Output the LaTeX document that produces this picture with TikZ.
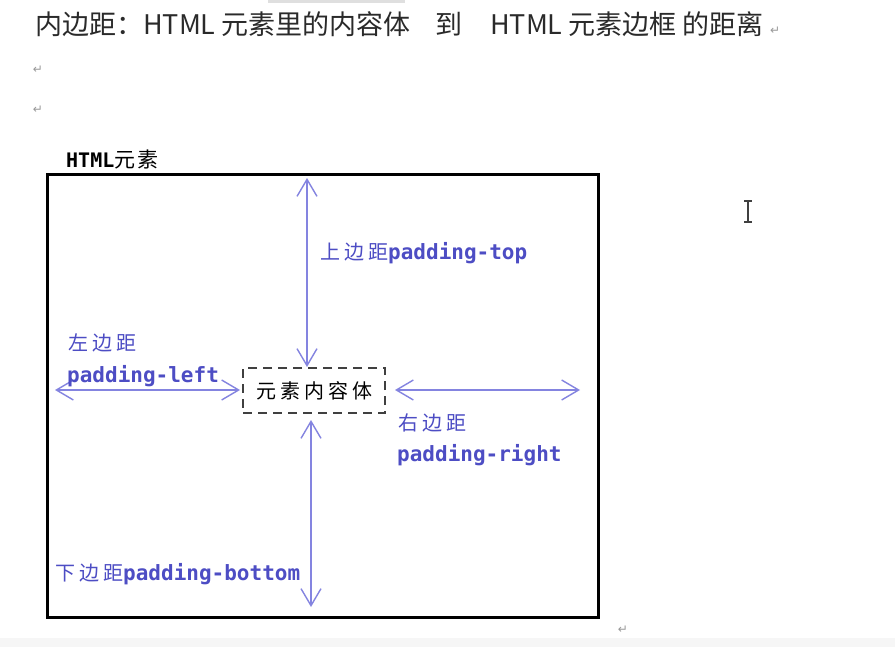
\documentclass[tikz,border=0pt]{standalone}
\usepackage{fontspec}
\usetikzlibrary{arrows.meta}
\newfontfamily\cjk{Noto Sans CJK SC}
\newfontfamily\monof{DejaVu Sans Mono}
\newfontfamily\symf{DejaVu Sans}
\definecolor{arrowblue}{HTML}{8484E0}
\definecolor{textblue}{HTML}{4D4DC4}
\definecolor{titlegray}{HTML}{2A2A2A}
\tikzset{
  padarrow/.style={draw=arrowblue, line width=1.4pt,
    {Straight Barb[length=17pt,width=20pt,line width=1.4pt]}-{Straight Barb[length=17pt,width=20pt,line width=1.4pt]}},
  titletext/.style={anchor=base west, inner sep=0pt, text=titlegray, font=\cjk\fontsize{27}{27}\selectfont},
  lbl/.style={anchor=base west, inner sep=0pt, text=textblue},
  retmark/.style={inner sep=0pt, text=gray!80, font=\symf\fontsize{12}{12}\selectfont},
}
\newcommand\cz[1]{{\cjk\fontsize{20}{20}\selectfont #1}}
\newcommand\mz[1]{{\monof\bfseries\fontsize{21}{21}\selectfont #1}}
\begin{document}
\begin{tikzpicture}[x=1pt,y=-1pt]
  % canvas
  \fill[white] (0,0) rectangle (895,647);
  \useasboundingbox (0,0) rectangle (895,647);
  \fill[gray!7] (0,638) rectangle (895,647);
  \fill[gray!25] (268,0) rectangle (405,3);

  % title
  \node[titletext] (t1) at (35,35) {内边距：HTML 元素里的内容体};
  \node[titletext] (t2) at (435,35) {到};
  \node[titletext] (t3) at (490,35) {HTML 元素边框 的距离};
  \node[retmark, anchor=west] (r0) at (770,31) {↵};
  \node[retmark] (r1) at (38,70) {↵};
  \node[retmark] (r2) at (38,110) {↵};
  \node[retmark] (r3) at (623,630) {↵};

  % HTML element box
  \node[anchor=base west, inner sep=0pt] (hl) at (66,168)
    {{\monof\bfseries\fontsize{20}{20}\selectfont HTML}{\cjk\fontsize{21}{21}\selectfont 元\hspace{2pt}素}};
  \node[draw=black, line width=3pt, minimum width=551pt, minimum height=442pt, inner sep=0pt] (outer) at (322.5,396) {};

  % content box
  \node[draw=black!75, line width=1.4pt, dash pattern=on 9pt off 6pt,
        minimum width=142pt, minimum height=45pt, inner sep=0pt] (content) at (314,390.5)
    {\cjk\fontsize{20}{20}\selectfont 元\hspace{4pt}素\hspace{4pt}内\hspace{4pt}容\hspace{4pt}体};

  % arrow end points
  \coordinate (topA) at (307,178);
  \coordinate (topB) at (307,367);
  \coordinate (botA) at (311,420);
  \coordinate (botB) at (311,607);
  \coordinate (leftA) at (55,390);
  \coordinate (leftB) at (240,390);
  \coordinate (rightA) at (395,390);
  \coordinate (rightB) at (580,390);

  \draw[padarrow] (topA) -- (topB);
  \draw[padarrow] (botA) -- (botB);
  \draw[padarrow] (leftA) -- (leftB);
  \draw[padarrow] (rightA) -- (rightB);

  % labels
  \node[lbl] (ltop) at (320,260) {\cz{上\hspace{4pt}边\hspace{4pt}距}\mz{padding-top}};
  \node[lbl] (lleft1) at (68,351) {\cz{左\hspace{4pt}边\hspace{4pt}距}};
  \node[lbl] (lleft2) at (67,382) {\mz{padding-left}};
  \node[lbl] (lright1) at (398,430) {\cz{右\hspace{4pt}边\hspace{4pt}距}};
  \node[lbl] (lright2) at (397,461) {\mz{padding-right}};
  \node[lbl] (lbot) at (55,580) {\cz{下\hspace{4pt}边\hspace{4pt}距}\mz{padding-bottom}};

  % text cursor
  \draw[black!75, line width=1.5pt] (748,201) -- (748,222);
  \draw[black!75, line width=1.3pt] (744,201) -- (752,201) (744,222) -- (752,222);
\end{tikzpicture}
\end{document}
